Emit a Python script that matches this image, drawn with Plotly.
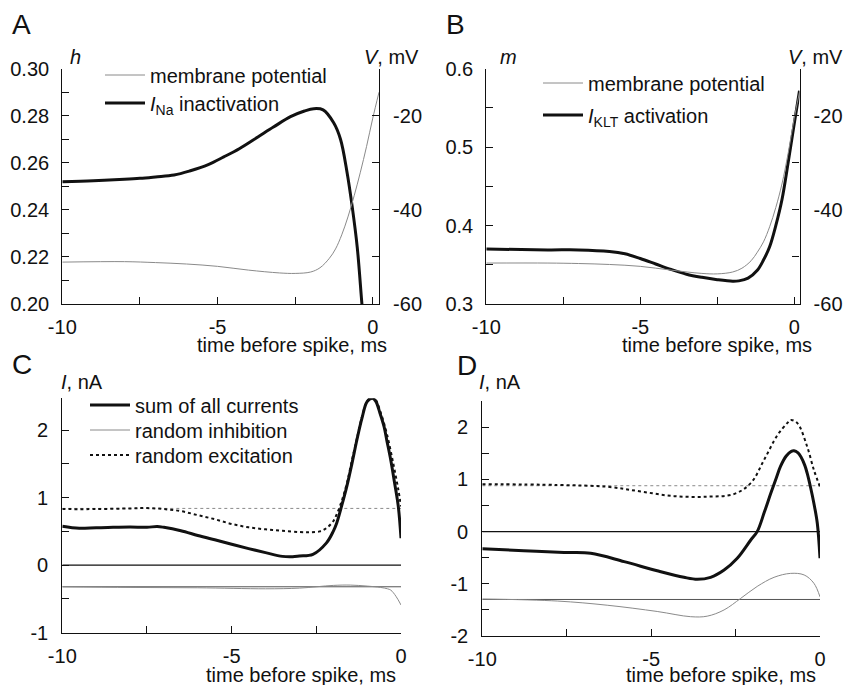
import plotly.graph_objects as go

FONT = "Liberation Sans, Arial, Helvetica, sans-serif"
W, H = 848, 685

# ---------------- Panel A ----------------
a_t_h = [-10, -9, -8, -7.5, -7, -6.4, -5.9, -5.3, -4.8, -4.3, -3.7, -3.2, -2.65, -2.2, -1.9, -1.6, -1.26, -1.04,
         -0.83, -0.67, -0.5, -0.35, -0.3]
a_h = [0.2520, 0.2524, 0.2530, 0.2534, 0.2540, 0.2548, 0.2565, 0.2592, 0.2625, 0.2660, 0.2710, 0.2752, 0.2796,
       0.2820, 0.2830, 0.2825, 0.2770, 0.2700, 0.2560, 0.2420, 0.2240, 0.2000, 0.1930]
a_t_v = [-10, -8, -7, -6, -5, -4, -3, -2.5, -2, -1.7, -1.4, -1.2, -1.0, -0.8, -0.6, -0.4, -0.2, 0, 0.2]
a_v = [-51.1, -51.0, -51.2, -51.5, -52.0, -52.8, -53.4, -53.5, -53.2, -52.3, -50.3, -48.3, -45.3, -41.5,
       -37.0, -32.0, -26.5, -20.5, -15.0]

# ---------------- Panel B ----------------
b_t_m = [-10, -8, -7, -6, -5.5, -5, -4.5, -4, -3.5, -3, -2.5, -2, -1.8, -1.5, -1.2, -1.0, -0.8, -0.6, -0.4, -0.2, 0, 0.17]
b_m = [0.370, 0.369, 0.369, 0.367, 0.364, 0.358, 0.351, 0.344, 0.338, 0.334, 0.331, 0.329, 0.3295, 0.333,
       0.343, 0.356, 0.373, 0.400, 0.433, 0.480, 0.530, 0.572]
b_t_v = [-10, -8, -7, -6, -5, -4, -3, -2.5, -2, -1.7, -1.4, -1.2, -1.0, -0.8, -0.6, -0.4, -0.2, 0, 0.17]
b_v = [-51.3, -51.3, -51.4, -51.6, -52.0, -52.8, -53.5, -53.6, -53.2, -52.4, -50.8, -49.0, -46.8, -43.6,
       -39.5, -34.5, -28.0, -20.5, -15.0]

# ---------------- Panel C ----------------
c_t_sum = [-10, -9.5, -9, -8.5, -8, -7.5, -7.2, -7, -6.5, -6, -5.5, -5, -4.5, -4, -3.5, -3.2, -3.0, -2.6,
           -2.2, -2.0, -1.9, -1.75, -1.6, -1.45, -1.3, -1.15, -1.0, -0.85, -0.75, -0.62, -0.5, -0.42,
           -0.3, -0.2, -0.08, 0]
c_sum = [0.575, 0.545, 0.555, 0.560, 0.565, 0.560, 0.572, 0.560, 0.510, 0.440, 0.375, 0.310, 0.245, 0.185,
         0.130, 0.125, 0.135, 0.160, 0.330, 0.500, 0.620, 0.880, 1.165, 1.500, 1.860, 2.180, 2.420, 2.470,
         2.430, 2.250, 2.050, 1.850, 1.550, 1.250, 0.870, 0.400]
c_t_exc = [-10, -9, -8, -7.5, -7, -6.5, -6, -5.5, -5, -4.5, -4, -3.5, -3.0, -2.7, -2.4, -2.2, -2.0, -1.9,
           -1.75, -1.6, -1.45, -1.3, -1.15, -1.0, -0.85, -0.75, -0.62, -0.42, -0.23, -0.08, 0]
c_exc = [0.83, 0.83, 0.84, 0.845, 0.83, 0.80, 0.74, 0.68, 0.61, 0.56, 0.53, 0.51, 0.49, 0.487, 0.50, 0.55,
         0.65, 0.75, 0.95, 1.21, 1.55, 1.88, 2.20, 2.43, 2.49, 2.45, 2.29, 1.95, 1.51, 1.12, 0.87]
c_t_inh = [-10, -8, -6, -4, -3, -2, -1.5, -1, -0.6, -0.4, -0.3, -0.15, 0]
c_inh = [-0.32, -0.33, -0.335, -0.35, -0.34, -0.30, -0.295, -0.31, -0.33, -0.35, -0.37, -0.46, -0.59]
c_exc_mean = 0.84
c_inh_mean = -0.32

# ---------------- Panel D ----------------
d_t_sum = [-10, -8.77, -7.58, -6.79, -5.80, -4.82, -4.03, -3.63, -3.24, -2.84, -2.45, -2.05, -1.86, -1.65,
           -1.46, -1.3, -1.17, -1.0, -0.85, -0.77, -0.65, -0.57, -0.45, -0.38, -0.28, -0.18, -0.08, 0]
d_sum = [-0.33, -0.364, -0.40, -0.415, -0.575, -0.75, -0.875, -0.914, -0.875, -0.735, -0.51, -0.16, 0.0,
         0.37, 0.73, 1.02, 1.25, 1.45, 1.54, 1.55, 1.51, 1.44, 1.27, 1.12, 0.85, 0.54, 0.16, -0.51]
d_t_exc = [-10, -7.78, -6.30, -5.31, -4.32, -3.34, -2.55, -2.05, -1.66, -1.26, -0.97, -0.87, -0.67, -0.38, -0.18, 0]
d_exc = [0.91, 0.895, 0.86, 0.77, 0.68, 0.67, 0.72, 0.93, 1.37, 1.85, 2.08, 2.14, 2.08, 1.63, 1.18, 0.86]
d_t_inh = [-10, -7.78, -6.30, -4.82, -3.83, -3.34, -2.84, -2.35, -1.86, -1.36, -0.87, -0.47, -0.18, 0]
d_inh = [-1.29, -1.33, -1.41, -1.53, -1.63, -1.62, -1.50, -1.28, -1.05, -0.875, -0.80, -0.83, -0.99, -1.25]
d_exc_mean = 0.88
d_inh_mean = -1.30

# ---------------- tick labels ----------------
time_ticks = [-10, -5, 0]
time_ticktext = ["-10", "-5", "0"]
time_minor = [-7.5, -2.5]
h_ticks = [0.20, 0.22, 0.24, 0.26, 0.28, 0.30]
h_ticktext = ["0.20", "0.22", "0.24", "0.26", "0.28", "0.30"]
h_minor = [0.21, 0.23, 0.25, 0.27, 0.29]
m_ticks = [0.3, 0.4, 0.5, 0.6]
m_ticktext = ["0.3", "0.4", "0.5", "0.6"]
m_minor = [0.35, 0.45, 0.55]
v_ticks = [-60, -40, -20]
v_ticktext = ["-60", "-40", "-20"]
v_minor = [-50, -30, -10]
ic_ticks = [-1, 0, 1, 2]
ic_ticktext = ["-1", "0", "1", "2"]
ic_minor = [-0.5, 0.5, 1.5]
id_ticks = [-2, -1, 0, 1, 2]
id_ticktext = ["-2", "-1", "0", "1", "2"]
id_minor = [-1.5, -0.5, 0.5, 1.5]

THIN = "#8a8a8a"
BLACK = "#111111"
FS = 20


def px(x):
    return x / W


def py(y):
    return 1 - y / H


SPL = dict(shape="spline", smoothing=1.0)

fig = go.Figure()

# A
fig.add_trace(go.Scatter(x=a_t_v, y=a_v, xaxis="x", yaxis="y2", mode="lines", name="membrane potential",
                         line=dict(color=THIN, width=1, **SPL), legend="legend"))
fig.add_trace(go.Scatter(x=a_t_h, y=a_h, xaxis="x", yaxis="y", mode="lines",
                         name="<i>I</i><sub>Na</sub> inactivation",
                         line=dict(color=BLACK, width=3, **SPL), legend="legend2"))
# B
fig.add_trace(go.Scatter(x=b_t_v, y=b_v, xaxis="x2", yaxis="y4", mode="lines", name="membrane potential",
                         line=dict(color=THIN, width=1, **SPL), legend="legend3"))
fig.add_trace(go.Scatter(x=b_t_m, y=b_m, xaxis="x2", yaxis="y3", mode="lines",
                         name="<i>I</i><sub>KLT</sub> activation",
                         line=dict(color=BLACK, width=3, **SPL), legend="legend4"))

# C reference lines
fig.add_trace(go.Scatter(x=[-10, 0], y=[0, 0], xaxis="x3", yaxis="y5", mode="lines", showlegend=False,
                         line=dict(color=BLACK, width=1.3)))
fig.add_trace(go.Scatter(x=[-10, 0], y=[c_exc_mean, c_exc_mean], xaxis="x3", yaxis="y5", mode="lines",
                         showlegend=False, line=dict(color=THIN, width=1, dash="dot")))
fig.add_trace(go.Scatter(x=[-10, 0], y=[c_inh_mean, c_inh_mean], xaxis="x3", yaxis="y5", mode="lines",
                         showlegend=False, line=dict(color="#555555", width=1)))
fig.add_trace(go.Scatter(x=c_t_sum, y=c_sum, xaxis="x3", yaxis="y5", mode="lines", name="sum of all currents",
                         line=dict(color=BLACK, width=3, **SPL), legend="legend5"))
fig.add_trace(go.Scatter(x=c_t_inh, y=c_inh, xaxis="x3", yaxis="y5", mode="lines", name="random inhibition",
                         line=dict(color=THIN, width=1, **SPL), legend="legend6"))
fig.add_trace(go.Scatter(x=c_t_exc, y=c_exc, xaxis="x3", yaxis="y5", mode="lines", name="random excitation",
                         line=dict(color=BLACK, width=2, dash="dot", **SPL), legend="legend7"))

# D
fig.add_trace(go.Scatter(x=[-10, 0], y=[0, 0], xaxis="x4", yaxis="y6", mode="lines", showlegend=False,
                         line=dict(color=BLACK, width=1.3)))
fig.add_trace(go.Scatter(x=[-10, 0], y=[d_exc_mean, d_exc_mean], xaxis="x4", yaxis="y6", mode="lines",
                         showlegend=False, line=dict(color=THIN, width=1, dash="dot")))
fig.add_trace(go.Scatter(x=[-10, 0], y=[d_inh_mean, d_inh_mean], xaxis="x4", yaxis="y6", mode="lines",
                         showlegend=False, line=dict(color="#555555", width=1)))
fig.add_trace(go.Scatter(x=d_t_sum, y=d_sum, xaxis="x4", yaxis="y6", mode="lines", showlegend=False,
                         line=dict(color=BLACK, width=3, **SPL)))
fig.add_trace(go.Scatter(x=d_t_inh, y=d_inh, xaxis="x4", yaxis="y6", mode="lines", showlegend=False,
                         line=dict(color=THIN, width=1, **SPL)))
fig.add_trace(go.Scatter(x=d_t_exc, y=d_exc, xaxis="x4", yaxis="y6", mode="lines", showlegend=False,
                         line=dict(color=BLACK, width=2, dash="dot", **SPL)))

tickfont = dict(family=FONT, size=FS, color=BLACK)


def axis(domain, rng, tv, tt, minor, anchor, standoff, **kw):
    d = dict(domain=domain, range=rng, anchor=anchor, showline=True, linecolor=BLACK, linewidth=1.2,
             ticks="inside", ticklen=7, tickwidth=1.2, tickcolor=BLACK, tickmode="array", tickvals=tv,
             ticktext=tt, tickfont=tickfont, showgrid=False, zeroline=False, fixedrange=True,
             automargin=False, ticklabelstandoff=standoff,
             minor=dict(tickmode="array", tickvals=minor, ticks="inside", ticklen=7, tickwidth=1.2,
                        tickcolor=BLACK, showgrid=False))
    d.update(kw)
    return d


yA = [py(304), py(68.7)]
yC = [py(632.7), py(398.3)]
yD = [py(636), py(401.2)]

legfont = dict(family=FONT, size=FS, color=BLACK)


def leg(x, y):
    return dict(x=px(x), y=py(y), xanchor="left", yanchor="middle", bgcolor="rgba(0,0,0,0)",
                font=legfont, tracegroupgap=0, itemclick=False, itemdoubleclick=False, itemwidth=40)


fig.update_layout(
    width=W, height=H, margin=dict(l=0, r=0, t=0, b=0, autoexpand=False),
    paper_bgcolor="white", plot_bgcolor="white",
    font=dict(family=FONT, size=FS, color=BLACK),
    xaxis=axis([px(62.3), px(379)], [-10, 0.2], time_ticks, time_ticktext, time_minor, "y", 5),
    yaxis=axis(yA, [0.2, 0.3], h_ticks, h_ticktext, h_minor, "x", 8),
    yaxis2=axis(yA, [-60, -10], v_ticks, v_ticktext, v_minor, "x", 9, overlaying="y", side="right"),
    xaxis2=axis([px(486.3), px(799.5)], [-10, 0.17], time_ticks, time_ticktext, time_minor, "y3", 5),
    yaxis3=axis(yA, [0.3, 0.6], m_ticks, m_ticktext, m_minor, "x2", 8),
    yaxis4=axis(yA, [-60, -10], v_ticks, v_ticktext, v_minor, "x2", 9, overlaying="y3", side="right"),
    xaxis3=axis([px(62.3), px(401)], [-10, 0], time_ticks, time_ticktext, time_minor, "y5", 5),
    yaxis5=axis(yC, [-1, 2.47], ic_ticks, ic_ticktext, ic_minor, "x3", 9),
    xaxis4=axis([px(482.3), px(820)], [-10, 0], time_ticks, time_ticktext, time_minor, "y6", 5),
    yaxis6=axis(yD, [-2, 2.5], id_ticks, id_ticktext, id_minor, "x4", 9),
    legend=leg(100, 75),
    legend2=leg(100, 103),
    legend3=leg(538, 83),
    legend4=leg(538, 115),
    legend5=leg(85, 405),
    legend6=leg(85, 430),
    legend7=leg(85, 455),
    showlegend=True,
)

ann = []


def text(x, y, s, size=FS, xanchor="left"):
    ann.append(dict(x=px(x), y=py(y), xref="paper", yref="paper", text=s, showarrow=False,
                    xanchor=xanchor, yanchor="middle", font=dict(family=FONT, size=size, color=BLACK)))


# panel letters
text(10, 25, "A", 28)
text(444, 25, "B", 28)
text(10, 364, "C", 28)
text(455, 366, "D", 28)
# axis labels
text(75, 57, "<i>h</i>", FS, "center")
text(421, 57, "<i>V</i>, mV", FS, "right")
text(508, 57, "<i>m</i>", FS, "center")
text(845, 57, "<i>V</i>, mV", FS, "right")
text(59, 382, "<i>I</i>, nA", FS, "left")
text(477, 382, "<i>I</i>, nA", FS, "left")
# x titles
text(389, 345, "time before spike, ms", FS, "right")
text(814, 345, "time before spike, ms", FS, "right")
text(398, 675, "time before spike, ms", FS, "right")
text(818, 675, "time before spike, ms", FS, "right")

fig.update_layout(annotations=ann)

fig.write_html("out.html")
